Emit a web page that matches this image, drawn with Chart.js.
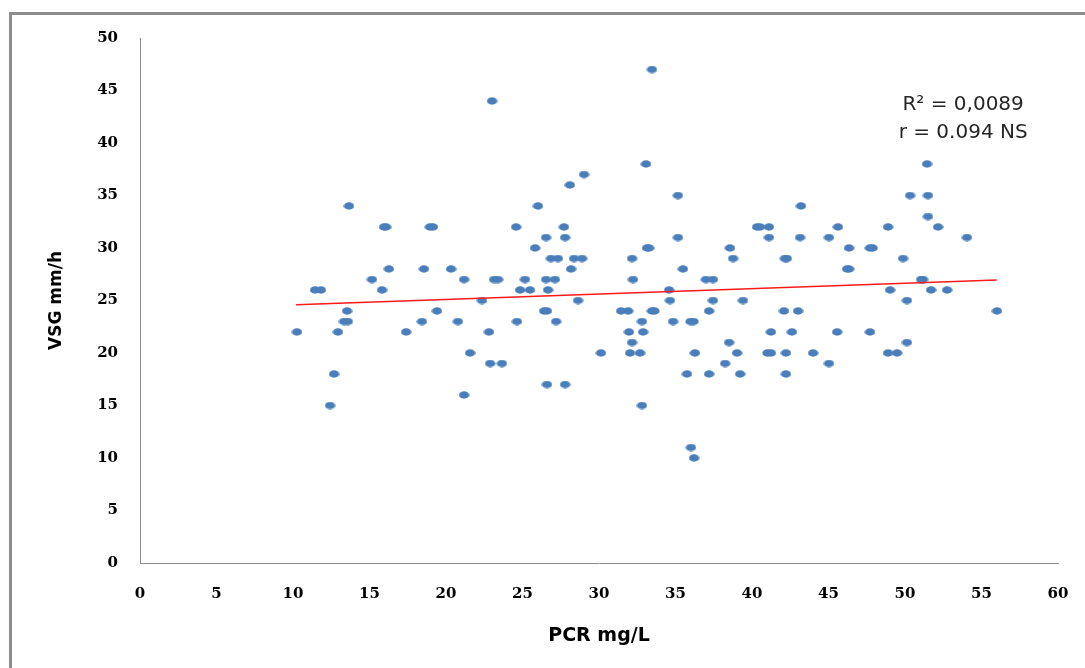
<!DOCTYPE html>
<html>
<head>
<meta charset="utf-8">
<title>VSG vs PCR</title>
<script src="https://cdn.jsdelivr.net/npm/chart.js@4"></script>
<style>
    html, body { margin: 0; padding: 0; background: #fff; overflow: hidden; }
    #frame { position: absolute; left: 9px; top: 12px; width: 2000px; height: 2000px; border: 3px solid #8c8c8c; }
    #wrap { position: absolute; left: 0; top: 0; width: 1085px; height: 668px; }
</style>
</head>
<body>
<div id="frame"></div>
<div id="wrap"><canvas id="chart" width="1085" height="668"></canvas></div>
<script>
// Valeurs (PCR mg/L -> VSG mm/h)
const pcrValues = [
    10.26, 11.44, 11.83, 12.42, 12.68, 12.94, 13.33, 13.59, 13.53, 13.66,
    15.16, 15.82, 15.95, 16.08, 16.27, 17.39, 18.43, 18.56, 18.95, 19.15,
    19.41, 20.33, 20.78, 21.18, 21.18, 21.57, 22.35, 22.88, 22.81, 23.01,
    23.14, 23.40, 23.66, 24.58, 24.64, 24.84, 25.16, 25.49, 25.82, 26.01,
    26.41, 26.60, 26.54, 26.60, 26.67, 26.54, 26.86, 27.19, 27.12, 27.32,
    27.71, 27.78, 27.78, 28.17, 28.10, 28.37, 28.63, 29.02, 28.89, 30.13,
    31.44, 31.90, 31.96, 32.16, 32.16, 32.03, 32.22, 32.68, 32.81, 32.81,
    32.88, 33.07, 33.14, 33.27, 33.46, 33.62, 33.46, 34.58, 34.64, 34.84,
    35.16, 35.16, 35.49, 35.75, 35.98, 36.18, 36.01, 36.21, 36.27, 36.99,
    37.45, 37.19, 37.19, 37.45, 38.24, 38.50, 38.56, 38.76, 39.02, 39.22,
    39.41, 40.33, 40.52, 41.01, 41.24, 41.11, 41.11, 41.24, 42.09, 42.15,
    42.28, 42.22, 42.22, 42.61, 43.01, 43.14, 43.20, 43.99, 45.03, 45.03,
    45.56, 45.62, 46.34, 46.21, 46.34, 47.71, 47.88, 47.71, 48.89, 48.89,
    49.48, 49.02, 49.87, 50.13, 50.13, 50.33, 51.05, 51.18, 51.44, 51.50,
    51.50, 51.70, 52.16, 52.75, 54.05, 56.01
];
const vsgValues = [
    22, 26, 26, 15, 18, 22, 23, 23, 24, 34,
    27, 26, 32, 32, 28, 22, 23, 28, 32, 32,
    24, 28, 23, 27, 16, 20, 25, 19, 22, 44,
    27, 27, 19, 32, 23, 26, 27, 26, 30, 34,
    24, 24, 31, 17, 26, 27, 29, 23, 27, 29,
    32, 17, 31, 28, 36, 29, 25, 37, 29, 20,
    24, 24, 22, 29, 21, 20, 27, 20, 23, 15,
    22, 38, 30, 30, 24, 24, 47, 26, 25, 23,
    35, 31, 28, 18, 23, 23, 11, 10, 20, 27,
    27, 24, 18, 25, 19, 21, 30, 29, 20, 18,
    25, 32, 32, 20, 20, 32, 31, 22, 24, 29,
    29, 20, 18, 22, 24, 31, 34, 20, 19, 31,
    22, 32, 30, 28, 28, 22, 30, 30, 32, 20,
    20, 26, 29, 25, 21, 35, 27, 27, 38, 35,
    33, 26, 32, 26, 31, 24
];

// Courbe de tendance (linéaire)
const trendX = [10.2, 56.0];
const trendY = [24.6, 26.95];

// Axes
const xTicks = { min: 0, max: 60, step: 5 };
const yTicks = { min: 0, max: 50, step: 5 };

const annotationLines = ['R\u00B2 = 0,0089', 'r = 0.094 NS'];

const pointsData = pcrValues.map((x, i) => ({ x: x, y: vsgValues[i] }));
const trendData = trendX.map((x, i) => ({ x: x, y: trendY[i] }));

// Points ovales comme dans Excel
function makeDot() {
    const c = document.createElement('canvas');
    c.width = 11;
    c.height = 8;
    const g = c.getContext('2d');
    g.fillStyle = '#4a7ebb';
    g.beginPath();
    g.ellipse(5.5, 4, 5.2, 3.7, 0, 0, Math.PI * 2);
    g.fill();
    return c;
}
const dot = makeDot();

const tickFont = { family: 'DejaVu Serif', size: 15, weight: 'bold' };

const annotationPlugin = {
    id: 'rAnnotation',
    afterDraw(chart) {
        const ctx = chart.ctx;
        const xs = chart.scales.x;
        const ys = chart.scales.y;
        const cx = xs.getPixelForValue(53.8);
        ctx.save();
        ctx.fillStyle = '#262626';
        ctx.font = '20px "DejaVu Sans"';
        ctx.textAlign = 'center';
        ctx.textBaseline = 'middle';
        ctx.fillText(annotationLines[0], cx, ys.getPixelForValue(43.6));
        ctx.fillText(annotationLines[1], cx, ys.getPixelForValue(41.0));
        ctx.restore();
    }
};

new Chart(document.getElementById('chart').getContext('2d'), {
    type: 'scatter',
    data: {
        datasets: [{
            label: 'VSG',
            data: pointsData,
            pointStyle: dot,
            pointRadius: 5,
            pointHoverRadius: 5,
            order: 2
        }, {
            label: 'Tendance',
            type: 'line',
            data: trendData,
            borderColor: '#ff1a1a',
            borderWidth: 1.5,
            pointRadius: 0,
            fill: false,
            order: 1
        }]
    },
    options: {
        responsive: false,
        animation: false,
        devicePixelRatio: 1,
        layout: { padding: { top: 38, right: 27, left: 0, bottom: 0 } },
        plugins: {
            legend: { display: false },
            tooltip: { enabled: false }
        },
        scales: {
            x: {
                type: 'linear',
                min: xTicks.min,
                max: xTicks.max,
                grid: { display: false, drawTicks: false },
                border: { display: true, color: '#8c8c8c', width: 1 },
                ticks: { stepSize: xTicks.step, color: '#000', font: tickFont, padding: 22 },
                title: {
                    display: true,
                    text: 'PCR mg/L',
                    color: '#000',
                    font: { family: 'DejaVu Sans', size: 19, weight: 'bold' },
                    padding: { top: 0, bottom: 21 }
                },
                afterFit(scale) {
                    scale.height = 105;
                    scale.paddingLeft = 0;
                    scale.paddingRight = 0;
                }
            },
            y: {
                min: yTicks.min,
                max: yTicks.max,
                grid: { display: false, drawTicks: false },
                border: { display: true, color: '#8c8c8c', width: 1 },
                ticks: { stepSize: yTicks.step, color: '#000', font: tickFont, padding: 22 },
                title: {
                    display: true,
                    text: 'VSG mm/h',
                    color: '#000',
                    font: { family: 'DejaVu Sans', size: 17, weight: 'bold' },
                    padding: { top: 46, bottom: 0 }
                },
                afterFit(scale) { scale.width = 140; }
            }
        }
    },
    plugins: [annotationPlugin]
});
</script>
</body>
</html>
